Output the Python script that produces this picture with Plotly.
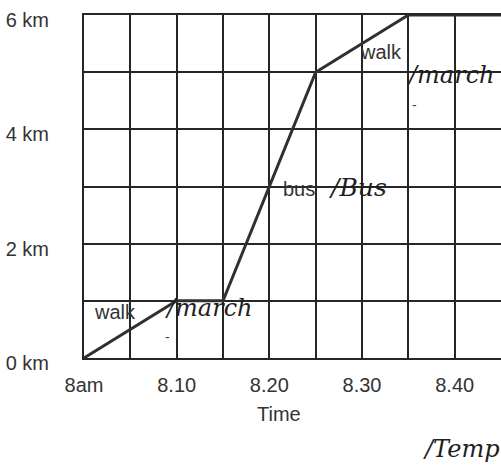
import plotly.graph_objects as go

# Data: minutes after 8:00 and distance in km
minutes = [0, 10, 15, 25, 35, 45]
distance_km = [0, 1, 1, 5, 6, 6]

x_tickvals = [0, 5, 10, 15, 20, 25, 30, 35, 40, 45]
x_ticktext = ["8am", "", "8.10", "", "8.20", "", "8.30", "", "8.40", ""]
y_tickvals = [0, 1, 2, 3, 4, 5, 6]
y_ticktext = ["0 km", "", "2 km", "", "4 km", "", "6 km"]

# Segment labels (text, x in minutes, y in km)
labels_sans = [("walk", 3.35, 0.80), ("bus", 23.2, 2.96), ("walk", 32.0, 5.35)]
labels_serif = [("/march", 13.5, 0.875, 24), ("/Bus", 29.6, 2.98, 25), ("/march", 39.6, 4.95, 24)]
small_marks = [("-", 9.0, 0.36), ("-", 35.7, 4.43)]

ink = "#262626"
sans = "Liberation Sans, Arial, sans-serif"
serif = "DejaVu Serif, Liberation Serif, serif"

fig = go.Figure()
fig.add_trace(go.Scatter(x=minutes, y=distance_km, mode="lines",
                         line=dict(color="#303030", width=3), hoverinfo="skip"))

for t, x, y in labels_sans:
    fig.add_annotation(x=x, y=y, text=t, showarrow=False,
                       font=dict(family=sans, size=20, color="#333"))
for t, x, y, s in labels_serif:
    fig.add_annotation(x=x, y=y, text="<i>" + t + "</i>", showarrow=False,
                       font=dict(family=serif, size=s, color="#1e1e1e"))
for t, x, y in small_marks:
    fig.add_annotation(x=x, y=y, text=t, showarrow=False,
                       font=dict(family=sans, size=14, color="#444"))

# axis title and footer text
fig.add_annotation(xref="paper", yref="paper", x=(279 - 84) / 417, y=-(414 - 358) / 343,
                   xanchor="center", yanchor="middle", text="Time", showarrow=False,
                   font=dict(family=sans, size=20, color="#333"))
fig.add_annotation(xref="paper", yref="paper", x=(421 - 84) / 417, y=-(449 - 358) / 343,
                   xanchor="left", yanchor="middle", text="<i>/Temp</i>", showarrow=False,
                   font=dict(family=serif, size=24, color="#1e1e1e"))

fig.update_layout(
    width=501, height=471,
    margin=dict(l=84, r=0, t=15, b=113, autoexpand=False),
    paper_bgcolor="white", plot_bgcolor="white",
    showlegend=False,
    font=dict(family=sans, size=20, color="#333"),
)
fig.update_xaxes(range=[0, 45], tickvals=x_tickvals, ticktext=x_ticktext,
                 showgrid=True, gridcolor=ink, gridwidth=1.6,
                 showline=True, linecolor=ink, linewidth=2, mirror=True,
                 ticks="", ticklabelstandoff=8, zeroline=False,
                 tickfont=dict(family=sans, size=20, color="#333"))
fig.update_yaxes(range=[0, 6], tickvals=y_tickvals, ticktext=y_ticktext,
                 showgrid=True, gridcolor=ink, gridwidth=1.6,
                 showline=True, linecolor=ink, linewidth=2, mirror=True,
                 ticks="", ticklabelstandoff=29, ticklabelshift=5,
                 ticklabeloverflow="allow", zeroline=False,
                 tickfont=dict(family=sans, size=20, color="#333"))

fig.write_html("out.html", config={"displayModeBar": False},
               post_script="document.body.style.margin='0';document.body.style.overflow='hidden';")
